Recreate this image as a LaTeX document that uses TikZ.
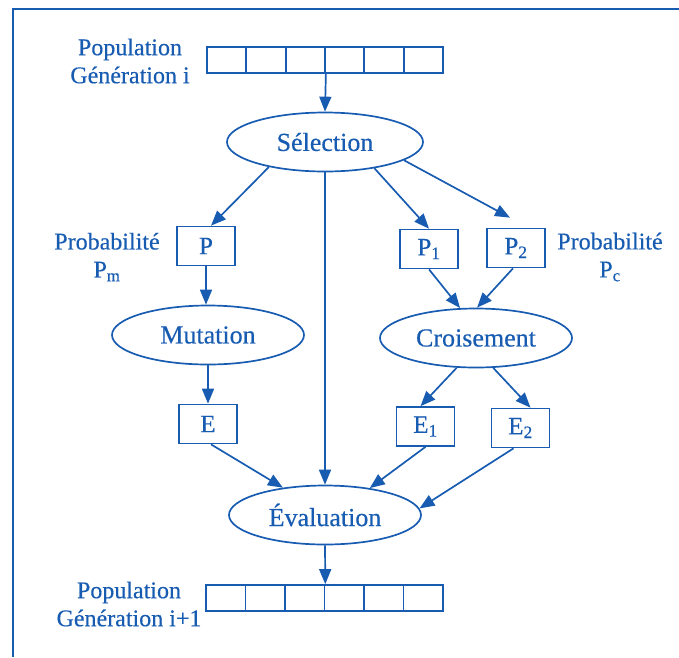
\documentclass[tikz,border=0pt]{standalone}
\usepackage{fontspec}
\setmainfont{Liberation Serif}[FakeBold=0.4]
\usetikzlibrary{shapes.geometric,arrows.meta}
\definecolor{dblue}{RGB}{24,92,178}
\tikzset{
  every node/.style={text=dblue},
  ell/.style={ellipse, draw=dblue, line width=1.7pt, minimum width=192pt,
    minimum height=59pt, inner sep=0pt, font=\fontsize{26}{30}\selectfont},
  bx/.style={rectangle, draw=dblue, line width=1.7pt, minimum width=58pt,
    minimum height=39pt, inner sep=0pt, font=\fontsize{25}{30}\selectfont},
  cell/.style={rectangle, draw=dblue, line width=1.7pt, minimum width=39.4pt,
    minimum height=26pt, inner sep=0pt},
  lbl/.style={align=center, font=\fontsize{24}{28}\selectfont},
  arr/.style={draw=dblue, line width=1.7pt, -{Triangle[length=15pt,width=12pt]}},
}
\begin{document}
\begin{tikzpicture}[x=1pt,y=-1pt]
\useasboundingbox (0,0) rectangle (679,657);
% frame (top and left edges)
\draw[dblue, line width=1.6pt] (13,657) -- (13,9) -- (679,9);

% population arrays
\foreach \i in {1,...,6}
  \node[cell] (top\i) at ({207+39.33*(\i-0.5)},60) {};
\foreach \i in {1,...,6}
  \node[cell] (bot\i) at ({206+39.5*(\i-0.5)},598) {};

% side labels
\node[lbl] (lblTop) at (130,61) {Population\\Génération i};
\node[lbl] (lblPm) at (107,257) {Probabilité\\P\textsubscript{m}};
\node[lbl] (lblPc) at (610,257) {Probabilité\\P\textsubscript{c}};
\node[lbl] (lblBot) at (129,604) {Population\\Génération i+1};

% operators
\node[ell, minimum width=196pt] (sel) at (325,142) {Sélection};
\node[ell] (mut) at (208,335) {Mutation};
\node[ell] (cro) at (476,338) {Croisement};
\node[ell] (eval) at (325,515) {Évaluation};

% individuals
\node[bx] (P) at (206,246) {P};
\node[bx] (P1) at (429,249) {P\textsubscript{1}};
\node[bx] (P2) at (516,248) {P\textsubscript{2}};
\node[bx] (E) at (208,424) {E};
\node[bx] (E1) at (425.5,426.5) {E\textsubscript{1}};
\node[bx] (E2) at (520.5,428) {E\textsubscript{2}};

% flow
\draw[arr] (top3.south east) -- (sel.north);
\draw[arr] (sel.204) -- ([xshift=5pt]P.north);
\draw[arr] (sel.south) -- (eval.north);
\draw[arr] (sel.332) -- (P1.north);
\draw[arr] (sel.347) -- ([shift={(-6pt,10pt)}]P2.north);
\draw[arr] (P.south) -- (P.south |- mut.north);
\draw[arr] (mut.south) -- (mut.south |- E.north);
\draw[arr] (P1.south) -- (cro.118);
\draw[arr] ([xshift=-3pt]P2.south) -- (cro.88);
\draw[arr] (cro.237) -- ([xshift=-5pt]E1.north);
\draw[arr] (cro.300) -- ([xshift=10pt]E2.north);
\draw[arr] ([xshift=3pt]E.south) -- (eval.147);
\draw[arr] (E1.south) -- (eval.31);
\draw[arr] ([xshift=-7pt]E2.south) -- (eval.4);
\draw[arr] (eval.south) -- (bot3.north east);
\end{tikzpicture}
\end{document}
